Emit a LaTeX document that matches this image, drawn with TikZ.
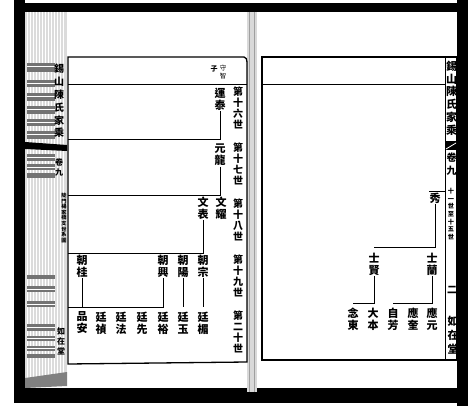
\documentclass[tikz,border=0pt]{standalone}
\usepackage{fontspec}
\setmainfont{Noto Sans CJK TC}
\usetikzlibrary{positioning}

\tikzset{
  pname/.style={font=\fontsize{11}{12}\selectfont\bfseries, align=center, inner sep=0.5pt},
  gen/.style={font=\fontsize{10}{10.8}\selectfont\bfseries, align=center, inner sep=0pt},
  note/.style={font=\fontsize{6.5}{8}\selectfont, align=center, inner sep=0pt},
  small/.style={font=\fontsize{5.2}{5.6}\selectfont\bfseries, align=center, inner sep=0pt},
  edge/.style={font=\fontsize{10}{12.8}\selectfont\bfseries, align=center, inner sep=0pt},
  frame/.style={line width=1.3pt},
  rule/.style={line width=0.7pt},
  link/.style={line width=0.6pt},
  bar/.style={fill=black!55},
}

\begin{document}
\begin{tikzpicture}[x=1pt, y=-1pt]
 \useasboundingbox (0,0) rectangle (468,406);
 \fill[white] (0,0) rectangle (468,406);

 % scan border
 \fill[black] (14,3) rectangle (468,12);
 \fill[black] (14,0) rectangle (25,403);
 \fill[black] (14,388) rectangle (468,403);
 \fill[black] (457,0) rectangle (468,406);

 % page stack of the left leaf
 \fill[gray!28] (25,12) rectangle (67,382);
 \foreach \x in {27,30,...,65}
   \draw[white, line width=0.7pt] (\x,12) -- (\x,382);
 \fill[black!50] (25,378) -- (67,372) -- (67,386) -- (25,388) -- cycle;

 % fore-edge printing
 \foreach \ya/\yb in {63/72, 80/87, 93/101, 106/114, 119/126, 131/139,
                      154/161, 164/170, 173/178, 275/279, 286/292, 301/307,
                      324/331, 336/341, 346/351, 354/358}
   \fill[bar] (27,\ya) rectangle (55,\yb);
 \foreach \ya in {66,83,96,109,122,134,157,167,289,304,327,338,348}
   \draw[white, line width=0.5pt] (27,\ya) -- (55,\ya);
 \fill[black] (25,142) -- (67,145) -- (67,151) -- (25,149) -- cycle;
 \node[edge] (spine) at (59,101) {錫\\山\\陳\\氏\\家\\乘};
 \node[edge, font=\fontsize{8}{10}\selectfont\bfseries] (spinevol) at (59,167) {卷\\九};
 \node[edge, font=\fontsize{8}{10}\selectfont\bfseries] (spinehall) at (61,341) {如\\在\\堂};
 \node[small] (branch) at (64,218) {陡\\門\\楊\\家\\橋\\支\\世\\系\\圖};

 % gutter
 \fill[gray!30] (247,12) rectangle (257,392);
 \draw[gray!75, line width=0.8pt] (249.5,12) -- (249.5,392);
 \draw[gray!75, line width=0.8pt] (254.5,12) -- (254.5,392);

 % left page frame
 \draw[frame] (68,57) -- (244,57) to[out=0, in=90] (247,62) -- (247,362) -- (68,364) -- cycle;
 \draw[rule] (68,84) -- (247,84);

 % right page frame
 \draw[frame] (262,57) rectangle (457,360);
 \draw[rule] (262,84) -- (445,84);
 \draw[rule] (445,57) -- (445,360);

 % right margin
 \node[edge, font=\fontsize{11}{12.8}\selectfont\bfseries] (title) at (451.5,98) {錫\\山\\陳\\氏\\家\\乘};
 \fill[black] (445,141) rectangle (457,150);
 \draw[white, line width=0.8pt] (446,149) -- (456,143);
 \node[edge] (vol) at (451.5,164) {卷\\九};
 \node[note, font=\fontsize{6.2}{7.6}\selectfont\bfseries] (span) at (451,214) {十\\一\\世\\至\\十\\五\\世};
 \node[edge] (page) at (452,290) {二};
 \node[edge, font=\fontsize{11}{14}\selectfont\bfseries] (hall) at (453,335) {如\\在\\堂};

 % generation column
 \node[gen] (g16) at (238,108) {第\\十\\六\\世};
 \node[gen] (g17) at (238,164) {第\\十\\七\\世};
 \node[gen] (g18) at (238,220) {第\\十\\八\\世};
 \node[gen] (g19) at (238,276) {第\\十\\九\\世};
 \node[gen] (g20) at (238,332) {第\\二\\十\\世};

 % header note
 \node[note, font=\fontsize{7}{8}\selectfont\bfseries] (zi) at (214,69) {子};
 \node[note] (shouzhi) at (223,72) {守\\智};

 % left page names
 \node[pname] (yuntai)   at (220,99)  {運\\泰};
 \node[pname] (yuanlong) at (220,155) {元\\龍};
 \node[pname] (wenbiao)  at (203,208) {文\\表};
 \node[pname] (wenyao)   at (221,208) {文\\耀};
 \node[pname] (chaogui)  at (82,266)  {朝\\桂};
 \node[pname] (chaoxing) at (163,266) {朝\\興};
 \node[pname] (chaoyang) at (183,266) {朝\\陽};
 \node[pname] (chaozong) at (203,266) {朝\\宗};
 \node[pname] (pinan)    at (82,323)  {品\\安};
 \node[pname] (tzhen)    at (101,323) {廷\\禎};
 \node[pname] (tfa)      at (121,323) {廷\\法};
 \node[pname] (txian)    at (142,323) {廷\\先};
 \node[pname] (tyu)      at (163,323) {廷\\裕};
 \node[pname] (tyu2)     at (183,323) {廷\\玉};
 \node[pname] (tmei)     at (203,323) {廷\\楣};

 % right page names
 \node[pname] (xiu)      at (435,198) {秀};
 \node[pname] (shixian)  at (374,264) {士\\賢};
 \node[pname] (shilan)   at (432,264) {士\\蘭};
 \node[pname] (niandong) at (353,319) {念\\東};
 \node[pname] (daben)    at (373,319) {大\\本};
 \node[pname] (zifang)   at (393,319) {自\\芳};
 \node[pname] (yingkui)  at (413,319) {應\\奎};
 \node[pname] (yingyuan) at (432,319) {應\\元};

 % rows where the lines of descent run
 \coordinate (e17) at (68,139);
 \coordinate (e18) at (68,195);
 \coordinate (e19) at (68,253);
 \coordinate (e20) at (68,307);
 \coordinate (r17) at (445,191);
 \coordinate (r19) at (262,247);
 \coordinate (r20) at (262,303);

 \draw[link] (yuntai) -- (yuntai |- e17) -- (e17);
 \draw[link] (yuanlong) -- (yuanlong |- e18) -- (e18);
 \draw[link] (wenbiao) -- (wenbiao |- e19) -- (e19);
 \draw[link] (chaogui) -- (chaogui |- e20) -- (e20);
 \draw[link] (chaoxing) -- (chaoxing |- e20) -- (chaogui |- e20);
 \draw[link] (chaoyang) -- (chaoyang |- e20);
 \draw[link] (chaozong) -- (chaozong |- e20);

 \draw[link] ([xshift=-6pt]xiu.north |- r17) -- (r17);
 \draw[link] (xiu) -- (xiu |- r19) -- (shixian |- r19);
 \draw[link] (shixian) -- (shixian |- r20) -- (niandong |- r20);
 \draw[link] (shilan) -- (shilan |- r20) -- (zifang |- r20);
\end{tikzpicture}
\end{document}
